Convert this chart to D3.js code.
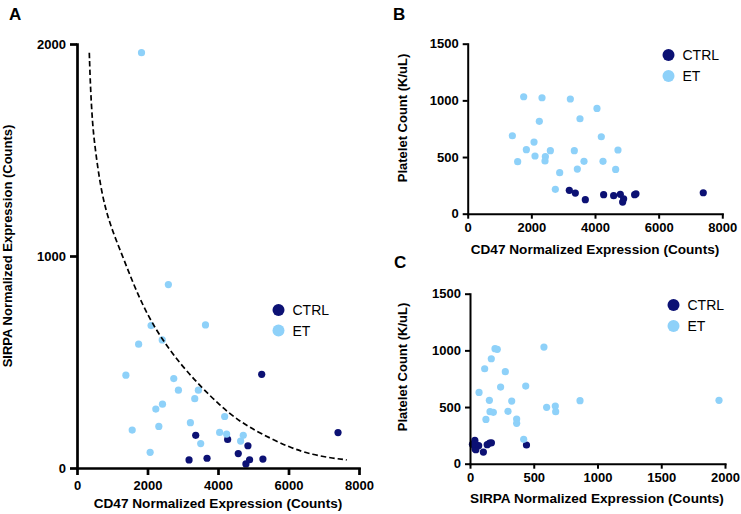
<!DOCTYPE html>
<html>
<head>
<meta charset="utf-8">
<script src="https://cdn.jsdelivr.net/npm/d3@7/dist/d3.min.js"></script>
<style>
  html, body { margin: 0; padding: 0; background: #fff; }
  svg { display: block; font-family: "Liberation Sans", Arial, Helvetica, sans-serif; }
  .tick text { font-weight: bold; font-size: 13px; fill: #000; }
</style>
</head>
<body>
<svg id="chart" width="741" height="514"></svg>
<script>
// ---------- DATA ----------
const groups = ["CTRL", "ET"];
const groupColors = ["#0c1174", "#8ed1f9"];

// Panel A: CD47 (x) vs SIRPA (y)
const aCTRL = [[3368,154],[4274,135],[5240,442],[7405,167],[4849,105],[4575,68],[3179,38],[3689,46],[4896,39],[5274,42],[4792,19]];
const aET = [[1830,1959],[2592,865],[2102,672],[3645,675],[2418,604],[1748,584],[1387,438],[2745,422],[2877,367],[3443,367],[3340,327],[2425,301],[2236,278],[4189,243],[3217,214],[1566,179],[2321,196],[4047,168],[4245,160],[4717,154],[4642,127],[3509,115],[2075,74]];
const aCurve = [[349,1959],[380,1800],[440,1620],[519,1500],[689,1300],[928,1150],[1268,1010],[1597,869],[1929,745],[2355,619],[3064,460],[4057,292],[4624,219],[5192,164],[6043,95],[6700,62],[7271,46],[7651,38]];

// Panel B: CD47 (x) vs Platelet count (y)
const bCTRL = [[3193,206],[3382,182],[3696,124],[4272,168],[4586,159],[4795,171],[4900,132],[4869,103],[5245,168],[5287,176],[7402,185]];
const bET = [[1759,1032],[2335,1023],[3225,1012],[4062,929],[3528,838],[2251,815],[1403,688],[4198,679],[2084,632],[1843,565],[2597,556],[3350,556],[4722,562],[2115,509],[2440,503],[2429,465],[1570,459],[3654,462],[4251,462],[3445,394],[4649,391],[2890,362],[2754,215]];

// Panel C: SIRPA (x) vs Platelet count (y)
const cCTRL = [[154,182],[135,168],[443,165],[168,185],[105,103],[68,159],[38,206],[46,124],[39,132],[42,176],[19,171]];
const cET = [[580,1029],[196,1015],[214,1009],[167,926],[115,838],[277,812],[240,676],[437,685],[71,629],[152,559],[327,553],[863,556],[1953,559],[601,497],[669,509],[672,459],[157,459],[183,453],[298,462],[366,394],[366,356],[125,391],[421,215]];

const cd47Ticks = [0,2000,4000,6000,8000];
const sirpaTicksA = [0,1000,2000];
const sirpaTicksC = [0,500,1000,1500,2000];
const pltTicks = [0,500,1000,1500];

const titles = {
  cd47: "CD47 Normalized Expression (Counts)",
  sirpa: "SIRPA Normalized Expression (Counts)",
  plt: "Platelet Count (K/uL)"
};

// ---------- DRAW ----------
const svg = d3.select("#chart");

function panel(cfg) {
  const g = svg.append("g");
  const x = d3.scaleLinear().domain(cfg.xDomain).range(cfg.xRange);
  const y = d3.scaleLinear().domain(cfg.yDomain).range(cfg.yRange);

  const series = [cfg.ctrl, cfg.et];
  series.forEach((pts, i) => {
    g.append("g").selectAll("circle").data(pts).join("circle")
      .attr("cx", d => x(d[0])).attr("cy", d => y(d[1]))
      .attr("r", cfg.r).attr("fill", groupColors[i]);
  });

  if (cfg.curve) {
    g.append("path").datum(cfg.curve)
      .attr("fill", "none").attr("stroke", "#000")
      .attr("stroke-width", 1.7).attr("stroke-dasharray", "5.5,3")
      .attr("d", d3.line().x(d => x(d[0])).y(d => y(d[1])).curve(d3.curveBasis));
  }

  const xAxis = g.append("g").attr("transform", `translate(0,${cfg.yRange[0]})`)
    .call(d3.axisBottom(x).tickValues(cfg.xTicks).tickFormat(d3.format("d"))
      .tickSize(cfg.tick).tickSizeOuter(0).tickPadding(cfg.xPad));
  const yAxis = g.append("g").attr("transform", `translate(${cfg.xRange[0]},0)`)
    .call(d3.axisLeft(y).tickValues(cfg.yTicks).tickFormat(d3.format("d"))
      .tickSize(cfg.tick).tickSizeOuter(0).tickPadding(cfg.yPad));
  [xAxis, yAxis].forEach(a => {
    a.select(".domain").attr("stroke", "#000").attr("stroke-width", cfg.sw).attr("stroke-linecap", "square");
    a.selectAll(".tick line").attr("stroke", "#000").attr("stroke-width", cfg.sw);
  });

  g.append("text").attr("x", cfg.xTitle[0]).attr("y", cfg.xTitle[1])
    .attr("text-anchor", "middle").attr("font-weight", "bold").attr("font-size", 13.6)
    .text(cfg.xLabel);
  g.append("text").attr("transform", `translate(${cfg.yTitle[0]},${cfg.yTitle[1]}) rotate(-90)`)
    .attr("text-anchor", "middle").attr("font-weight", "bold").attr("font-size", 13)
    .text(cfg.yLabel);

  g.append("text").attr("x", cfg.letterPos[0]).attr("y", cfg.letterPos[1])
    .attr("font-weight", "bold").attr("font-size", 17).text(cfg.letter);

  groups.forEach((name, i) => {
    const ly = cfg.legend[1] + i * cfg.legendGap;
    g.append("circle").attr("cx", cfg.legend[0]).attr("cy", ly).attr("r", 6).attr("fill", groupColors[i]);
    g.append("text").attr("x", cfg.legend[0] + 14).attr("y", ly)
      .attr("dominant-baseline", "central").attr("font-size", 14).text(name);
  });
}

panel({
  letter: "A", letterPos: [9, 20],
  ctrl: aCTRL, et: aET, curve: aCurve,
  xDomain: [0, 8000], xRange: [77, 359],
  yDomain: [0, 2000], yRange: [468, 44],
  xTicks: cd47Ticks, yTicks: sirpaTicksA,
  tick: 7, xPad: 6, yPad: 4, sw: 2.7, r: 3.6,
  xLabel: titles.cd47, yLabel: titles.sirpa,
  xTitle: [218, 508], yTitle: [12, 246],
  legend: [278.5, 310], legendGap: 20.5
});

panel({
  letter: "B", letterPos: [393, 20],
  ctrl: bCTRL, et: bET,
  xDomain: [0, 8000], xRange: [467.7, 722.3],
  yDomain: [0, 1500], yRange: [213.7, 43.7],
  xTicks: cd47Ticks, yTicks: pltTicks,
  tick: 5, xPad: 4, yPad: 4, sw: 2, r: 3.6,
  xLabel: titles.cd47, yLabel: titles.plt,
  xTitle: [595, 254], yTitle: [407, 118],
  legend: [668.5, 55], legendGap: 21
});

panel({
  letter: "C", letterPos: [394, 268],
  ctrl: cCTRL, et: cET,
  xDomain: [0, 2000], xRange: [470, 725],
  yDomain: [0, 1500], yRange: [463.7, 293.7],
  xTicks: sirpaTicksC, yTicks: pltTicks,
  tick: 5, xPad: 4, yPad: 4, sw: 2, r: 3.6,
  xLabel: titles.sirpa, yLabel: titles.plt,
  xTitle: [597, 503], yTitle: [407, 367],
  legend: [673.5, 305], legendGap: 21
});
</script>
</body>
</html>
